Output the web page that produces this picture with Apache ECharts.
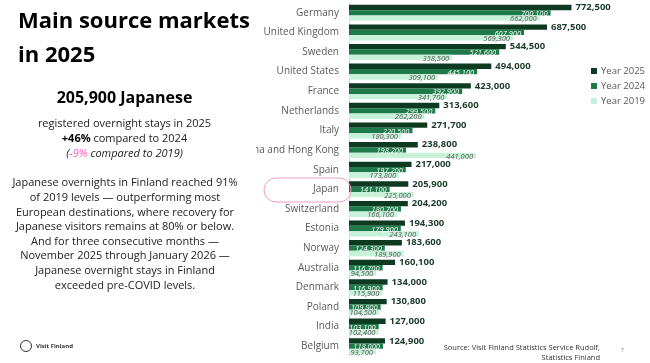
<!DOCTYPE html>
<html>
<head>
<meta charset="utf-8">
<script src="https://cdn.jsdelivr.net/npm/echarts@6/dist/echarts.min.js"></script>
<style>
html,body{margin:0;padding:0;background:#fff;}
#chart{width:650px;height:363px;}
</style>
</head>
<body>
<div id="chart"></div>
<script>
const categories = ["Germany","United Kingdom","Sweden","United States","France","Netherlands","Italy","China and Hong Kong","Spain","Japan","Switzerland","Estonia","Norway","Australia","Denmark","Poland","India","Belgium"];
const year2025 = [772500,687500,544500,494000,423000,313600,271700,238800,217000,205900,204200,194300,183600,160100,134000,130800,127000,124900];
const year2024 = [700100,607900,521600,445100,392900,299500,220500,198200,197200,141100,180700,179900,124300,116700,116900,109800,103100,118000];
const year2019 = [662000,569300,358500,309100,341700,262200,180300,441000,173800,225000,166100,243100,189900,94500,115900,104500,102400,93700];
const seriesNames = ["Year 2025","Year 2024","Year 2019"];

const FONT = "Open Sans";
const fmt = v => v.toLocaleString('en-US');

const chart = echarts.init(document.getElementById('chart'), null, {renderer:'canvas'});
const option = {
  animation:false,
  backgroundColor:'#ffffff',
  textStyle:{fontFamily:FONT},
  grid:{left:349, top:3, width:230.4, height:353, containLabel:false},
  xAxis:{type:'value', min:0, max:800000, show:false},
  yAxis:{
    type:'category', data:categories, inverse:true,
    axisLine:{show:true, lineStyle:{color:'#d9d9d9', width:1}},
    axisTick:{show:false},
    axisLabel:{color:'#595959', fontSize:10, margin:10, fontFamily:FONT}
  },
  legend:{
    orient:'vertical', left:586, top:61, itemWidth:6, itemHeight:6, itemGap:5,
    icon:'rect', data:seriesNames,
    textStyle:{color:'#595959', fontSize:9.5, lineHeight:10, fontFamily:FONT, padding:[0,0,0,-1]}
  },
  series:[
    {name:seriesNames[0], type:'bar', data:year2025, barGap:'0%', barCategoryGap:'18%',
     itemStyle:{color:'#0d3a21'},
     label:{show:true, position:'right', distance:4, formatter:p=>fmt(p.value), color:'#1e3a2a', fontWeight:'bold', fontSize:9.5, fontFamily:FONT}},
    {name:seriesNames[1], type:'bar', data:year2024,
     itemStyle:{color:'#1e7a4a'},
     label:{show:true, position:'insideRight', distance:3, offset:[0,1], formatter:p=>fmt(p.value), color:'#ffffff', fontStyle:'italic', fontSize:7.5, fontFamily:FONT}},
    {name:seriesNames[2], type:'bar', data:year2019,
     itemStyle:{color:'#c7f1d9'},
     label:{show:true, position:'insideRight', distance:3, offset:[0,1], formatter:p=>fmt(p.value), color:'#555555', fontStyle:'italic', fontSize:7.5, fontFamily:FONT}}
  ],
  graphic:[
    // cover clipping on long label as in reference
    {type:'rect', z:100, shape:{x:200, y:140, width:56, height:18}, style:{fill:'#ffffff'}},
    // Japan highlight
    {type:'rect', z:100, shape:{x:264, y:178, width:87, height:24, r:12}, style:{fill:'none', stroke:'#f29cc4', lineWidth:1}},
    // Title
    {type:'text', z:100, left:18, top:5, style:{text:'Main source markets\nin 2025', font:'bold 22px "Open Sans"', lineHeight:34, fill:'#000000'}},
    {type:'text', z:100, x:124.5, y:98, style:{text:'205,900 Japanese', font:'bold 16px "Open Sans"', fill:'#000000', align:'center', verticalAlign:'middle'}},
    {type:'text', z:100, x:124.5, y:116, style:{
      text:'registered overnight stays in 2025\n{b|+46%} compared to 2024\n{i|(}{p|-9%}{i| compared to 2019)}',
      font:'11px "Open Sans"', fill:'#222222', align:'center', lineHeight:15,
      rich:{
        b:{fontWeight:'bold', fontSize:11, fontFamily:FONT, fill:'#000'},
        i:{fontStyle:'italic', fontSize:11, fontFamily:FONT, fill:'#222'},
        p:{fontStyle:'italic', fontSize:11, fontFamily:FONT, fill:'#ff5fae'}
      }}},
    {type:'text', z:100, x:125, y:176, style:{
      text:'Japanese overnights in Finland reached 91%\nof 2019 levels — outperforming most\nEuropean destinations, where recovery for\nJapanese visitors remains at 80% or below.\nAnd for three consecutive months —\nNovember 2025 through January 2026 —\nJapanese overnight stays in Finland\nexceeded pre-COVID levels.',
      font:'11px "Open Sans"', fill:'#222222', align:'center', lineHeight:14.6}},
    // Visit Finland logo
    {type:'circle', z:100, shape:{cx:26, cy:346, r:5.5}, style:{fill:'none', stroke:'#333', lineWidth:1}},
    {type:'text', z:100, x:36, y:346, style:{text:'Visit Finland', font:'bold 6px "Open Sans"', fill:'#333', verticalAlign:'middle'}},
    // source
    {type:'text', z:100, x:600, y:343, style:{text:'Source: Visit Finland Statistics Service Rudolf,\nStatistics Finland', font:'7.5px "Open Sans"', fill:'#333', align:'right', lineHeight:10}},
    {type:'text', z:100, x:621, y:348, style:{text:'7', font:'5px "Open Sans"', fill:'#777'}}
  ]
};
chart.setOption(option);
</script>
</body>
</html>
